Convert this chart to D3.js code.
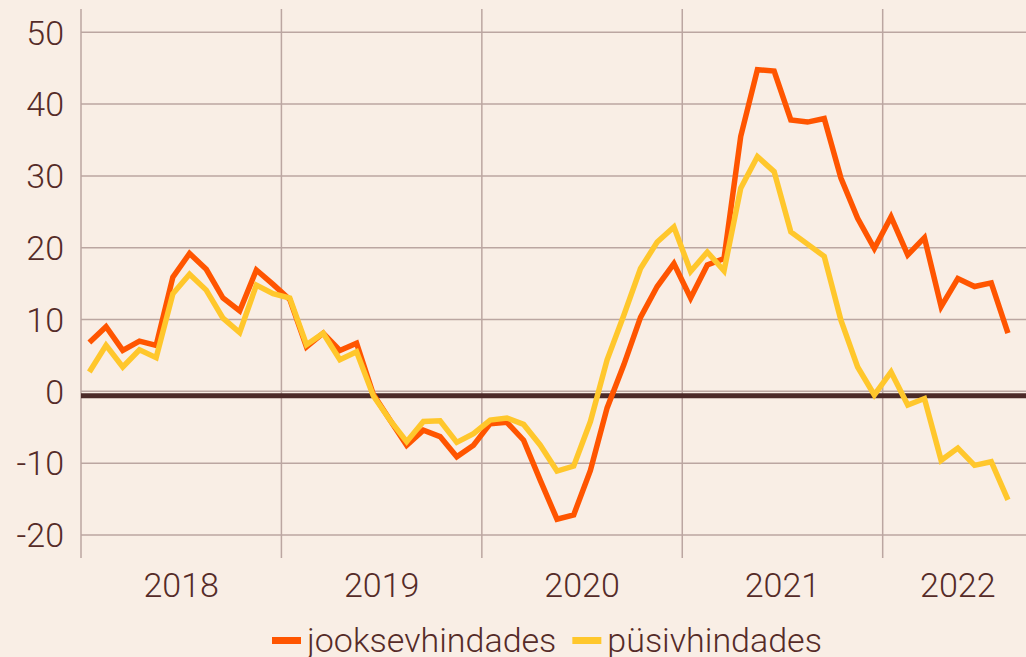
<!DOCTYPE html>
<html>
<head>
<meta charset="utf-8">
<script src="https://cdn.jsdelivr.net/npm/d3@7"></script>
<style>
  body { margin: 0; background: #f9eee5; }
  svg { display: block; font-family: Roboto, sans-serif; font-weight: 300; }
</style>
</head>
<body>
<script>
// monthly values, Jan 2018 - Aug 2022
var years = [2018, 2019, 2020, 2021, 2022];
var yTicks = [-20, -10, 0, 10, 20, 30, 40, 50];
var baseline = -0.6;

var jooksev = [
  6.8, 9.0, 5.7, 7.0, 6.4, 15.9, 19.2, 17.0, 13.0, 11.2, 16.9, 14.9,
  12.8, 6.2, 8.1, 5.7, 6.7, -0.4, -4.0, -7.5, -5.4, -6.3, -9.1, -7.5,
  -4.5, -4.3, -6.8, -12.4, -17.8, -17.2, -11.0, -2.3, 3.7, 10.3, 14.6, 17.8,
  13.0, 17.6, 18.5, 35.5, 44.8, 44.6, 37.8, 37.5, 38.0, 29.7, 24.1, 19.9,
  24.3, 19.0, 21.4, 11.8, 15.7, 14.6, 15.1, 8.1
];
var pusiv = [
  2.7, 6.4, 3.4, 5.8, 4.7, 13.6, 16.3, 14.1, 10.2, 8.2, 14.8, 13.6,
  13.0, 6.5, 8.1, 4.4, 5.5, -0.6, -4.0, -7.0, -4.2, -4.1, -7.1, -5.9,
  -4.0, -3.7, -4.6, -7.5, -11.1, -10.4, -4.2, 4.4, 10.6, 17.1, 20.8, 22.9,
  16.7, 19.4, 16.8, 28.3, 32.7, 30.6, 22.2, 20.5, 18.8, 9.9, 3.4, -0.5,
  2.7, -1.9, -1.0, -9.6, -7.9, -10.3, -9.8, -15.1
];

var series = [
  { name: "jooksevhindades", values: jooksev, color: "#ff5500" },
  { name: "püsivhindades", values: pusiv, color: "#ffc72c" }
];

var width = 1026, height = 657;
var textColor = "#552b28";
var gridColor = "#bba6a1";

var svg = d3.select("body").append("svg")
  .attr("width", width)
  .attr("height", height);

svg.append("rect").attr("width", width).attr("height", height).attr("fill", "#f9eee5");

// x in months from Jan 2018, points at mid-month
var x = d3.scaleLinear().domain([0, 57]).range([81, 1033]);
var y = d3.scaleLinear().domain([-20, 50]).range([535, 32.3]);

// horizontal grid
svg.append("g").selectAll("line")
  .data(yTicks)
  .enter().append("line")
  .attr("x1", x(0)).attr("x2", width)
  .attr("y1", function (d) { return y(d); })
  .attr("y2", function (d) { return y(d); })
  .attr("stroke", gridColor)
  .attr("stroke-width", 1.5);

// vertical year lines
svg.append("g").selectAll("line")
  .data(years)
  .enter().append("line")
  .attr("x1", function (d) { return x((d - 2018) * 12); })
  .attr("x2", function (d) { return x((d - 2018) * 12); })
  .attr("y1", 9).attr("y2", 558)
  .attr("stroke", gridColor)
  .attr("stroke-width", 1.5);

// y labels
svg.append("g").selectAll("text")
  .data(yTicks)
  .enter().append("text")
  .attr("x", 64)
  .attr("y", function (d) { return y(d); })
  .attr("dy", "0.36em")
  .attr("text-anchor", "end")
  .attr("font-size", 34)
  .attr("fill", textColor)
  .text(function (d) { return d; });

// year labels, centred in the visible part of each year
svg.append("g").selectAll("text")
  .data(years)
  .enter().append("text")
  .attr("x", function (d) {
    var a = x((d - 2018) * 12), b = Math.min(x((d - 2018) * 12 + 12), x.range()[1]);
    return (a + b) / 2;
  })
  .attr("y", 597)
  .attr("text-anchor", "middle")
  .attr("font-size", 34)
  .attr("fill", textColor)
  .text(function (d) { return d; });

// baseline
svg.append("line")
  .attr("x1", x(0)).attr("x2", width)
  .attr("y1", y(baseline)).attr("y2", y(baseline))
  .attr("stroke", "#4b2a28")
  .attr("stroke-width", 5);

var line = d3.line()
  .x(function (d, i) { return x(i + 0.5); })
  .y(function (d) { return y(d); });

svg.append("g").selectAll("path")
  .data(series)
  .enter().append("path")
  .attr("d", function (d) { return line(d.values); })
  .attr("fill", "none")
  .attr("stroke", function (d) { return d.color; })
  .attr("stroke-width", 5.5)
  .attr("stroke-linejoin", "miter");

// legend
var legend = svg.append("g").attr("transform", "translate(0,640)");
var lx = 272;
series.forEach(function (s) {
  legend.append("rect")
    .attr("x", lx).attr("y", -3)
    .attr("width", 29).attr("height", 7)
    .attr("fill", s.color);
  var t = legend.append("text")
    .attr("x", lx + 35).attr("y", 12)
    .attr("font-size", 34)
    .attr("fill", textColor)
    .text(s.name);
  lx += 35 + t.node().getComputedTextLength() + 16;
});
</script>
</body>
</html>
